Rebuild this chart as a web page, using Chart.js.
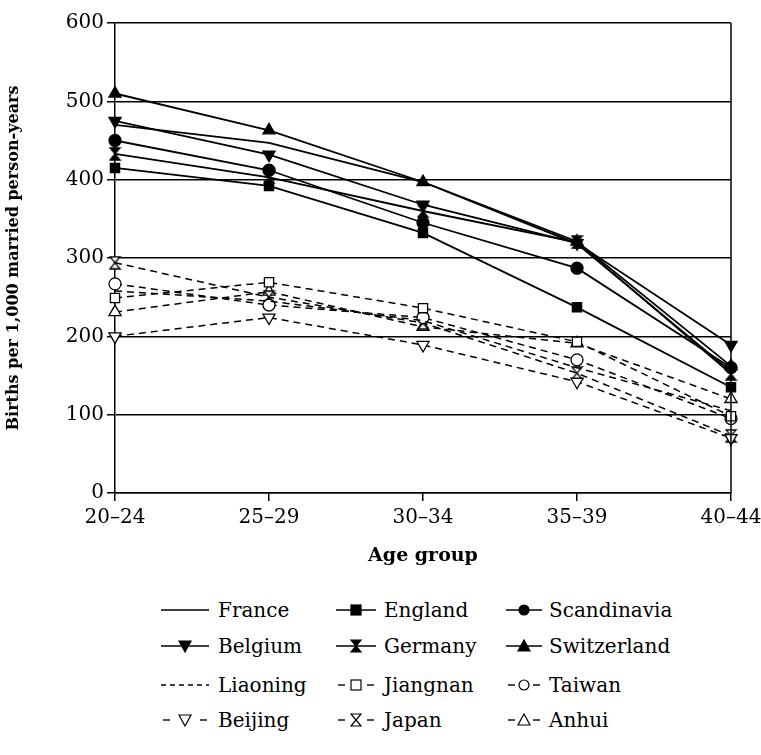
<!DOCTYPE html>
<html>
<head>
<meta charset="utf-8">
<script src="https://cdn.jsdelivr.net/npm/chart.js@4.4.1/dist/chart.umd.min.js"></script>
<style>
  body { margin: 0; background: #fff; }
  #wrap { position: relative; width: 761px; height: 755px; }
  #chart { position: absolute; left: 0; top: 0; }
  .leg { position: absolute; display: flex; align-items: center; font-family: 'DejaVu Serif', serif; font-size: 20px; color: #000; white-space: nowrap; }
</style>
</head>
<body>
<div id="wrap">
  <canvas id="chart" width="761" height="571"></canvas>
  <div id="legend"></div>
</div>
<script>
// Categorias e séries
const ageGroups = ['20–24', '25–29', '30–34', '35–39', '40–44'];
const yTicks = [0, 100, 200, 300, 400, 500, 600];

const france      = [470, 447, 397, 318, 155];
const england     = [415, 392, 332, 237, 135];
const scandinavia = [450, 412, 345, 287, 160];
const belgium     = [475, 432, 368, 319, 189];
const germany     = [433, 403, 360, 320, 152];
const switzerland = [510, 463, 397, 321, 162];

const liaoning = [258, 245, 220, 160, 105];
const jiangnan = [249, 269, 236, 193, 98];
const taiwan   = [267, 240, 224, 170, 95];
const beijing  = [200, 224, 189, 142, 70];
const japan    = [294, 250, 217, 153, 73];
const anhui    = [231, 257, 212, 191, 120];

// Marcador "ampulheta" (Germany / Japan)
function hourglass(filled) {
  const c = document.createElement('canvas');
  c.width = 13; c.height = 14;
  const g = c.getContext('2d');
  g.beginPath();
  g.moveTo(1.5, 1); g.lineTo(11.5, 1); g.lineTo(6.5, 7);
  g.lineTo(11.5, 13); g.lineTo(1.5, 13); g.lineTo(6.5, 7); g.closePath();
  g.fillStyle = filled ? '#000' : '#fff';
  g.fill();
  g.lineWidth = 1.3; g.strokeStyle = '#000';
  g.stroke();
  return c;
}

const dash = [7, 5];

// Definição das séries: nome, dados, marcador, preenchido, tracejado
const series = [
  { name: 'France',      data: france,      marker: 'none',     filled: true,  dashed: false },
  { name: 'England',     data: england,     marker: 'rect',     filled: true,  dashed: false },
  { name: 'Scandinavia', data: scandinavia, marker: 'circle',   filled: true,  dashed: false },
  { name: 'Belgium',     data: belgium,     marker: 'down',     filled: true,  dashed: false },
  { name: 'Germany',     data: germany,     marker: 'hour',     filled: true,  dashed: false },
  { name: 'Switzerland', data: switzerland, marker: 'triangle', filled: true,  dashed: false },
  { name: 'Liaoning',    data: liaoning,    marker: 'none',     filled: false, dashed: true },
  { name: 'Jiangnan',    data: jiangnan,    marker: 'rect',     filled: false, dashed: true },
  { name: 'Taiwan',      data: taiwan,      marker: 'circle',   filled: false, dashed: true },
  { name: 'Beijing',     data: beijing,     marker: 'down',     filled: false, dashed: true },
  { name: 'Japan',       data: japan,       marker: 'hour',     filled: false, dashed: true },
  { name: 'Anhui',       data: anhui,       marker: 'triangle', filled: false, dashed: true }
];

const datasets = series.map(s => {
  let style = s.marker, rotation = 0, radius = 6;
  if (s.marker === 'down') { style = 'triangle'; rotation = 180; radius = 7; }
  if (s.marker === 'triangle') radius = 7;
  if (s.marker === 'rect') radius = 6.5;
  if (s.marker === 'hour') style = hourglass(s.filled);
  if (s.marker === 'none') radius = 0;
  return {
    label: s.name,
    data: s.data,
    borderColor: '#000',
    borderWidth: s.dashed ? 1.5 : 1.8,
    borderDash: s.dashed ? dash : [],
    pointStyle: style,
    pointRotation: rotation,
    pointRadius: radius,
    pointBackgroundColor: s.filled ? '#000' : '#fff',
    pointBorderColor: '#000',
    pointBorderWidth: 1.3,
    fill: false,
    tension: 0
  };
});

// Borda direita da área do gráfico
const rightBorder = {
  id: 'rightBorder',
  afterDraw(chart) {
    const a = chart.chartArea, g = chart.ctx;
    g.save();
    g.strokeStyle = '#000'; g.lineWidth = 1.5;
    g.beginPath(); g.moveTo(a.right, a.top); g.lineTo(a.right, a.bottom); g.stroke();
    g.restore();
  }
};

const tickFont = { family: 'DejaVu Serif', size: 20 };

new Chart(document.getElementById('chart'), {
  type: 'line',
  data: { labels: ageGroups, datasets: datasets },
  plugins: [rightBorder],
  options: {
    responsive: false,
    animation: false,
    layout: { padding: { left: 0, right: 30, top: 23, bottom: 0 } },
    plugins: { legend: { display: false }, tooltip: { enabled: false } },
    scales: {
      x: {
        offset: false,
        grid: { display: true, drawOnChartArea: false, color: '#000', tickLength: 8, lineWidth: 1.5 },
        border: { display: true, color: '#000', width: 1.5 },
        ticks: { color: '#000', font: tickFont, padding: 5, maxRotation: 0 },
        title: { display: true, text: 'Age group', color: '#000', font: { family: 'DejaVu Serif', size: 19, weight: 'bold' }, padding: { top: 4 } },
        afterFit: s => { s.height = 78; s.paddingRight = 0; s.paddingLeft = 0; }
      },
      y: {
        min: 0, max: 600,
        afterBuildTicks: s => { s.ticks = yTicks.map(v => ({ value: v })); },
        grid: { color: '#000', lineWidth: 1.5, tickLength: 8 },
        border: { display: true, color: '#000', width: 1.5 },
        ticks: { color: '#000', font: tickFont, padding: 3 },
        title: { display: true, text: 'Births per 1,000 married person-years', color: '#000', font: { family: 'DejaVu Serif', size: 16, weight: 'bold' }, padding: { bottom: 5 } },
        afterFit: s => { s.width = 115; }
      }
    }
  }
});

// Legenda em HTML: 3 colunas x 4 linhas
const colSample = [161, 336, 506];
const colWidth = [48, 40, 36];
const colGap = [9, 8, 7];
const rowY = [611, 647, 686, 721];
const legend = document.getElementById('legend');

function sampleSvg(s, w, gap) {
  const m = w / 2, y = 10;
  const fill = s.filled ? '#000' : '#fff';
  let line = s.dashed
    ? (s.marker === 'none'
        ? `<line x1="0" y1="${y}" x2="${w}" y2="${y}" stroke="#000" stroke-width="1.4" stroke-dasharray="5,4"/>`
        : `<line x1="2" y1="${y}" x2="9" y2="${y}" stroke="#000" stroke-width="1.4"/><line x1="${w-9}" y1="${y}" x2="${w-2}" y2="${y}" stroke="#000" stroke-width="1.4"/>`)
    : `<line x1="0" y1="${y}" x2="${w}" y2="${y}" stroke="#000" stroke-width="1.7"/>`;
  let mk = '';
  const st = `fill="${fill}" stroke="#000" stroke-width="1.2"`;
  if (s.marker === 'rect') mk = `<rect x="${m-5}" y="${y-5}" width="10" height="10" ${st}/>`;
  if (s.marker === 'circle') mk = `<circle cx="${m}" cy="${y}" r="5" ${st}/>`;
  if (s.marker === 'triangle') mk = `<polygon points="${m-6},${y+5} ${m+6},${y+5} ${m},${y-6}" ${st}/>`;
  if (s.marker === 'down') mk = `<polygon points="${m-6},${y-5} ${m+6},${y-5} ${m},${y+6}" ${st}/>`;
  if (s.marker === 'hour') mk = `<polygon points="${m-5},${y-6} ${m+5},${y-6} ${m},${y} ${m+5},${y+6} ${m-5},${y+6} ${m},${y}" ${st}/>`;
  return `<svg style="margin-right:${gap}px" width="${w}" height="20" viewBox="0 0 ${w} 20">${line}${mk}</svg>`;
}

series.forEach((s, i) => {
  const row = Math.floor(i / 3), col = i % 3;
  const d = document.createElement('div');
  d.className = 'leg';
  d.style.left = colSample[col] + 'px';
  d.style.top = (rowY[row] - 13) + 'px';
  d.innerHTML = sampleSvg(s, colWidth[col], colGap[col]) + '<span>' + s.name + '</span>';
  legend.appendChild(d);
});
</script>
</body>
</html>
